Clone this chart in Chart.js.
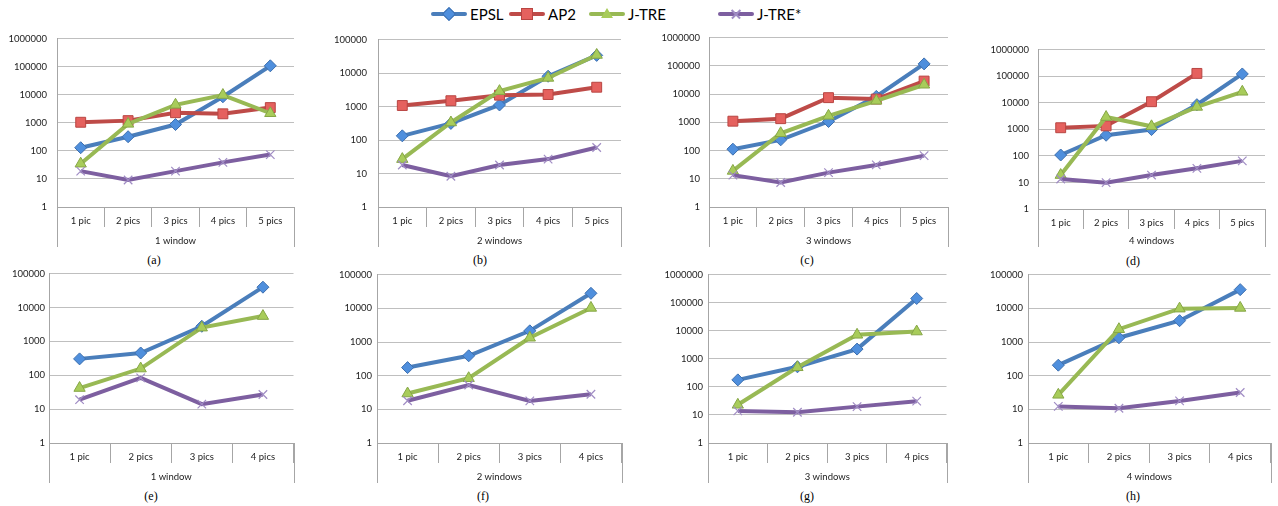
<!DOCTYPE html>
<html>
<head>
<meta charset="utf-8">
<script src="https://cdn.jsdelivr.net/npm/chart.js@4/dist/chart.umd.min.js"></script>
<style>
  body{margin:0;background:#fff;width:1278px;height:506px;position:relative;overflow:hidden;font-family:Lato,"Open Sans",sans-serif}
  .pan{position:absolute}
  .pan canvas{display:block}
  .cap{position:absolute;font-family:"Liberation Serif","DejaVu Serif",serif;font-size:12px;color:#000;transform:translate(-50%,-50%)}
  .lg{position:absolute;top:4px;height:20px;display:flex;align-items:center;font-size:15px;color:#000}
  .lg .ln{position:relative;width:36px;height:4px;border-radius:2px;margin-right:3px}
  .lg .mk{position:absolute;left:50%;top:50%}
</style>
</head>
<body>
<div id="legend"></div>
<script>
/* ---- categorías y ejes ---- */
const cats5 = ['1 pic','2 pics','3 pics','4 pics','5 pics'];
const cats4 = ['1 pic','2 pics','3 pics','4 pics'];
const groupTitles = ['1 window','2 windows','3 windows','4 windows'];
const yTicks6 = [1,10,100,1000,10000,100000,1000000];
const yTicks5 = [1,10,100,1000,10000,100000];
const seriesNames = ['EPSL','AP2','J-TRE','J-TRE*'];
const captions = ['(a)','(b)','(c)','(d)','(e)','(f)','(g)','(h)'];

/* ---- fila superior (5 pics) ---- */
const epslA = [130, 320, 870, 8500, 108000];
const ap2A = [1050, 1200, 2300, 2100, 3500];
const jtreA = [35, 920, 4400, 9800, 2200];
const jtreStarA = [19, 9.2, 19, 39, 74];

const epslB = [134, 315, 1120, 8100, 34000];
const ap2B = [1080, 1500, 2200, 2300, 3800];
const jtreB = [27, 335, 2900, 7200, 35000];
const jtreStarB = [18, 8.3, 18, 27, 60];

const epslC = [112, 240, 1070, 8300, 118000];
const ap2C = [1100, 1350, 7500, 6700, 29000];
const jtreC = [19, 410, 1700, 5800, 21500];
const jtreStarC = [13.5, 7.4, 16.5, 31, 66];

const epslD = [108, 600, 980, 8500, 122000];
const ap2D = [1150, 1350, 11000, 128000, null];
const jtreD = [19, 2900, 1300, 7000, 26000];
const jtreStarD = [13.5, 9.8, 19, 34, 65];

/* ---- fila inferior (4 pics, sin AP2) ---- */
const epslE = [305, 455, 2800, 40000];
const jtreE = [42, 158, 2550, 5600];
const jtreStarE = [19, 84, 14, 27];

const epslF = [174, 390, 2150, 28000];
const jtreF = [29.5, 84, 1340, 10300];
const jtreStarF = [18, 53, 17.8, 28];

const epslG = [178, 520, 2230, 142000];
const jtreG = [23, 500, 7200, 9400];
const jtreStarG = [13.9, 12.5, 19.8, 31];

const epslH = [205, 1340, 4300, 36000];
const jtreH = [27, 2400, 9800, 10300];
const jtreStarH = [12.2, 10.8, 17.8, 31.6];

/* ---- estilos de serie ---- */
const STY = [
  {c:'#4a7ebb', ps:'rectRot',  r:6,   bg:'#4f8fdd', bd:'#3d6fae', bw:1,   order:3},
  {c:'#be4b48', ps:'rect',     r:7,   bg:'#e5615e', bd:'#b84542', bw:1,   order:2},
  {c:'#98b954', ps:'triangle', r:6.5, bg:'#a8cc5a', bd:'#86a646', bw:1,   order:1},
  {c:'#7d5fa0', ps:'crossRot', r:6,   bg:'#a08cc4', bd:'#a08cc4', bw:1.2, order:0}
];
const GRID = '#bfbfbf', AXIS = '#a6a6a6', TXT = '#222';
const FONT = {family:'Lato', size:9.5};

/* ---- paneles: datos + posición ---- */
const panels = [
  {cats:cats5, g:groupTitles[0], yt:yTicks6, s:[epslA,ap2A,jtreA,jtreStarA], L:0,   T:23,  W:302, H:224, yW:57, yPad:10, xH:40, pR:4, cx:154, cy:260},
  {cats:cats5, g:groupTitles[1], yt:yTicks5, s:[epslB,ap2B,jtreB,jtreStarB], L:320, T:23,  W:309, H:224, yW:58, yPad:11, xH:40, pR:4, cx:480, cy:260},
  {cats:cats5, g:groupTitles[2], yt:yTicks6, s:[epslC,ap2C,jtreC,jtreStarC], L:645, T:23,  W:311, H:224, yW:64, yPad:9,  xH:40, pR:4, cx:807, cy:260},
  {cats:cats5, g:groupTitles[3], yt:yTicks6, s:[epslD,ap2D,jtreD,jtreStarD], L:975, T:35,  W:298, H:212, yW:63, yPad:9,  xH:38, pR:4, cx:1133, cy:261},
  {cats:cats4, g:groupTitles[0], yt:yTicks5, s:[epslE,null,jtreE,jtreStarE], L:0,   T:264, W:301, H:219, yW:49, yPad:4,  xH:40, pR:4, cx:151, cy:496},
  {cats:cats4, g:groupTitles[1], yt:yTicks5, s:[epslF,null,jtreF,jtreStarF], L:325, T:264, W:304, H:219, yW:52, yPad:5,  xH:40, pR:4, cx:483, cy:496},
  {cats:cats4, g:groupTitles[2], yt:yTicks6, s:[epslG,null,jtreG,jtreStarG], L:650, T:264, W:304, H:219, yW:58, yPad:5,  xH:40, pR:4, cx:807, cy:496},
  {cats:cats4, g:groupTitles[3], yt:yTicks5, s:[epslH,null,jtreH,jtreStarH], L:975, T:264, W:303, H:219, yW:53, yPad:5,  xH:40, pR:2, cx:1133, cy:496}
];

/* líneas largas en los bordes del eje de categorías (estilo Excel) */
const outerTicks = {
  id:'outerTicks',
  afterDraw(chart){
    const x = chart.scales.x, ctx = chart.ctx;
    ctx.save();
    ctx.strokeStyle = AXIS; ctx.lineWidth = 1;
    [x.left, x.right].forEach(px=>{
      const p = Math.round(px)+0.5;
      ctx.beginPath(); ctx.moveTo(p, x.top); ctx.lineTo(p, x.bottom); ctx.stroke();
    });
    ctx.restore();
  }
};

panels.forEach((P,i)=>{
  const box = document.createElement('div');
  box.className = 'pan';
  box.style.cssText = `left:${P.L}px;top:${P.T}px;width:${P.W}px;height:${P.H}px`;
  const cv = document.createElement('canvas');
  cv.width = P.W; cv.height = P.H;
  box.appendChild(cv);
  document.body.appendChild(box);

  const cap = document.createElement('div');
  cap.className = 'cap';
  cap.style.left = P.cx+'px'; cap.style.top = P.cy+'px';
  cap.textContent = captions[i];
  document.body.appendChild(cap);

  const datasets = [];
  P.s.forEach((d,k)=>{
    if(!d) return;
    const st = STY[k];
    datasets.push({
      label:seriesNames[k], data:d, order:st.order,
      borderColor:st.c, borderWidth:4, tension:0, fill:false,
      pointStyle:st.ps, pointRadius:st.r, pointBackgroundColor:st.bg,
      pointBorderColor:st.bd, pointBorderWidth:st.bw, clip:false
    });
  });

  new Chart(cv,{
    type:'line',
    data:{labels:P.cats, datasets},
    options:{
      responsive:false, animation:false, devicePixelRatio:1,
      layout:{padding:{top:8,right:P.pR,left:0,bottom:0}},
      plugins:{legend:{display:false}, tooltip:{enabled:false}},
      scales:{
        x:{
          offset:true,
          grid:{offset:true, drawOnChartArea:false, tickLength:20, color:AXIS},
          border:{color:AXIS},
          ticks:{padding:-12, font:FONT, color:TXT, maxRotation:0, autoSkip:false},
          title:{display:true, text:P.g, padding:{top:0,bottom:0}, font:FONT, color:TXT},
          afterFit:s=>{s.height = P.xH;}
        },
        y:{
          type:'logarithmic', min:P.yt[0], max:P.yt[P.yt.length-1],
          afterBuildTicks:s=>{s.ticks = P.yt.map(v=>({value:v}));},
          ticks:{callback:v=>String(v), padding:P.yPad, font:FONT, color:TXT},
          grid:{drawTicks:false, color:GRID},
          border:{color:AXIS},
          afterFit:s=>{s.width = P.yW;}
        }
      }
    },
    plugins:[outerTicks]
  });
});

/* ---- leyenda común ---- */
const lgText = [470, 548, 628, 757];
const mkCss = [
  'width:8px;height:8px;background:#4f8fdd;border:1px solid #3d6fae;transform:translate(-50%,-50%) rotate(45deg)',
  'width:10px;height:10px;background:#e5615e;border:1px solid #b84542;transform:translate(-50%,-50%)',
  'width:12px;height:10px;background:#a8cc5a;clip-path:polygon(50% 0,100% 100%,0 100%);transform:translate(-50%,-60%)',
  ''
];
const lg = document.getElementById('legend');
seriesNames.forEach((n,k)=>{
  const it = document.createElement('div');
  it.className = 'lg';
  it.style.left = (lgText[k]-39)+'px';
  let mk = `<span class="mk" style="${mkCss[k]}"></span>`;
  if(k===3){
    mk = `<span class="mk" style="width:12px;height:1.5px;background:#a08cc4;transform:translate(-50%,-50%) rotate(45deg)"></span>`+
         `<span class="mk" style="width:12px;height:1.5px;background:#a08cc4;transform:translate(-50%,-50%) rotate(-45deg)"></span>`;
  }
  it.innerHTML = `<span class="ln" style="background:${STY[k].c}">${mk}</span><span>${n}</span>`;
  lg.appendChild(it);
});
</script>
</body>
</html>
